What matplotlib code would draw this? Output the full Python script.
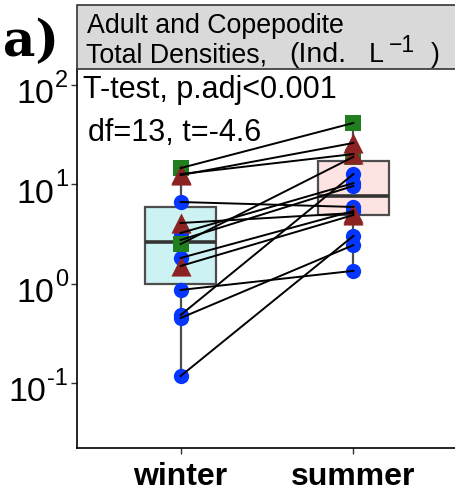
import numpy as np
import matplotlib
matplotlib.use('Agg')
import matplotlib.pyplot as plt
from matplotlib import cbook
from matplotlib.patches import Rectangle
from matplotlib.ticker import NullLocator
from matplotlib.transforms import blended_transform_factory

plt.rcParams['font.family'] = 'Liberation Sans'

# Paired site densities (Ind. L-1), one entry per site
seasons = ['winter', 'summer']
winter = [14.6, 12.7, 12.4, 6.65, 4.09, 3.24, 2.76, 2.51, 1.82, 1.51, 0.867, 0.485, 0.453, 0.118]
summer = [41.5, 20.2, 26.1, 5.93, 5.15, 10.3, 9.64, 18.9, 5.40, 4.92, 1.35, 12.7, 2.45, 3.03]
site_type = ['sq', 'tri', 'tri', 'c', 'tri', 'c', 'c', 'sq', 'c', 'tri', 'c', 'c', 'c', 'c']
y_ticks = [0.1, 1, 10, 100]

test_label = 'T-test, p.adj<0.001'
stat_label = 'df=13, t=-4.6'

marker_styles = {
    'c': dict(marker='o', color='#0536FF', s=11.0 ** 2),
    'sq': dict(marker='s', color='#1F7F1F', s=11.0 ** 2),
    'tri': dict(marker='^', color='#8B2323', s=14.5 ** 2),
}
box_fills = ['#CCF2F3', '#FDE4E2']

W, H = 455, 494
fig = plt.figure(figsize=(W / 100, H / 100), dpi=100)
ax = fig.add_axes([77 / W, 46 / H, 380 / W, 379 / H])
ax.set_yscale('log')

# boxes computed on log10 values, whiskers to the extremes
stats = cbook.boxplot_stats([np.log10(winter), np.log10(summer)], whis=(0, 100))
for st in stats:
    for k in ('med', 'q1', 'q3', 'whislo', 'whishi', 'mean'):
        st[k] = 10 ** st[k]
    st['fliers'] = []
bp = ax.bxp(stats, positions=[1, 2], widths=0.41, patch_artist=True,
            showfliers=False, showcaps=False,
            boxprops=dict(edgecolor='#4D4D4D', linewidth=1.6),
            medianprops=dict(color='#333333', linewidth=2.6),
            whiskerprops=dict(color='#4D4D4D', linewidth=1.6))
for patch, fc in zip(bp['boxes'], box_fills):
    patch.set_facecolor(fc)

winter = np.array(winter)
summer = np.array(summer)
site_type = np.array(site_type)
for key in ['c', 'sq', 'tri']:
    m = site_type == key
    st = marker_styles[key]
    ax.scatter(np.full(m.sum(), 1.0), winter[m], marker=st['marker'], c=st['color'],
               s=st['s'], linewidths=0, zorder=3)
    ax.scatter(np.full(m.sum(), 2.0), summer[m], marker=st['marker'], c=st['color'],
               s=st['s'], linewidths=0, zorder=3)

for w, s in zip(winter, summer):
    ax.plot([1, 2], [w, s], color='black', linewidth=1.4, zorder=4)

ax.set_xlim(0.4, 2.6)
ax.set_ylim(10 ** -1.652, 10 ** 2.161)
ax.set_yticks(y_ticks)
ax.set_yticklabels([])
ax.yaxis.set_minor_locator(NullLocator())
ax.set_xticks([1, 2])
ax.set_xticklabels(seasons, fontsize=23, fontweight='bold')
ax.tick_params(axis='y', length=4, width=1, color='#333333')
ax.tick_params(axis='x', length=4, width=1, color='#333333', pad=6)
for side in ('top', 'right'):
    ax.spines[side].set_visible(False)
for side in ('left', 'bottom'):
    ax.spines[side].set_linewidth(1.2)
    ax.spines[side].set_color('black')

# y labels as 10 with a large raised exponent
trans = blended_transform_factory(ax.transAxes, ax.transData)
for v in y_ticks:
    e = ax.annotate(str(int(round(np.log10(v)))), xy=(0, v), xycoords=trans,
                    xytext=(-6.5, -1.5), textcoords='offset points',
                    ha='right', va='baseline', fontsize=17, annotation_clip=False)
    ax.annotate('10', xy=(0, 0), xycoords=e, xytext=(-0.5, -13),
                textcoords='offset points', ha='right', va='bottom', fontsize=24.5,
                annotation_clip=False)

# facet strip
fig.add_artist(Rectangle((77 / W, 1 - 69 / H), 385 / W, 64 / H, transform=fig.transFigure,
                         facecolor='#D9D9D9', edgecolor='#333333', linewidth=1.2,
                         clip_on=False))
fig.text(87 / W, 1 - 33 / H, 'Adult and Copepodite', fontsize=19.3, va='baseline')
fig.text(86 / W, 1 - 62 / H, 'Total Densities,', fontsize=19.3, va='baseline')
fig.text(289 / W, 1 - 62 / H, '(Ind.', fontsize=20.5, va='baseline')
fig.text(369 / W, 1 - 62 / H, 'L', fontsize=19.3, va='baseline')
fig.text(389 / W, 1 - 52 / H, '\u22121', fontsize=16.5, va='baseline')
fig.text(431 / W, 1 - 62 / H, ')', fontsize=19.3, va='baseline')

fig.text(3 / W, 1 - 56 / H, 'a)', family='DejaVu Serif', fontweight='bold',
         fontsize=36, va='baseline')

fig.text(83 / W, 1 - 98 / H, test_label, fontsize=22, va='baseline')
fig.text(88 / W, 1 - 141 / H, stat_label, fontsize=22, va='baseline')

fig.savefig('out.png', dpi=100)
